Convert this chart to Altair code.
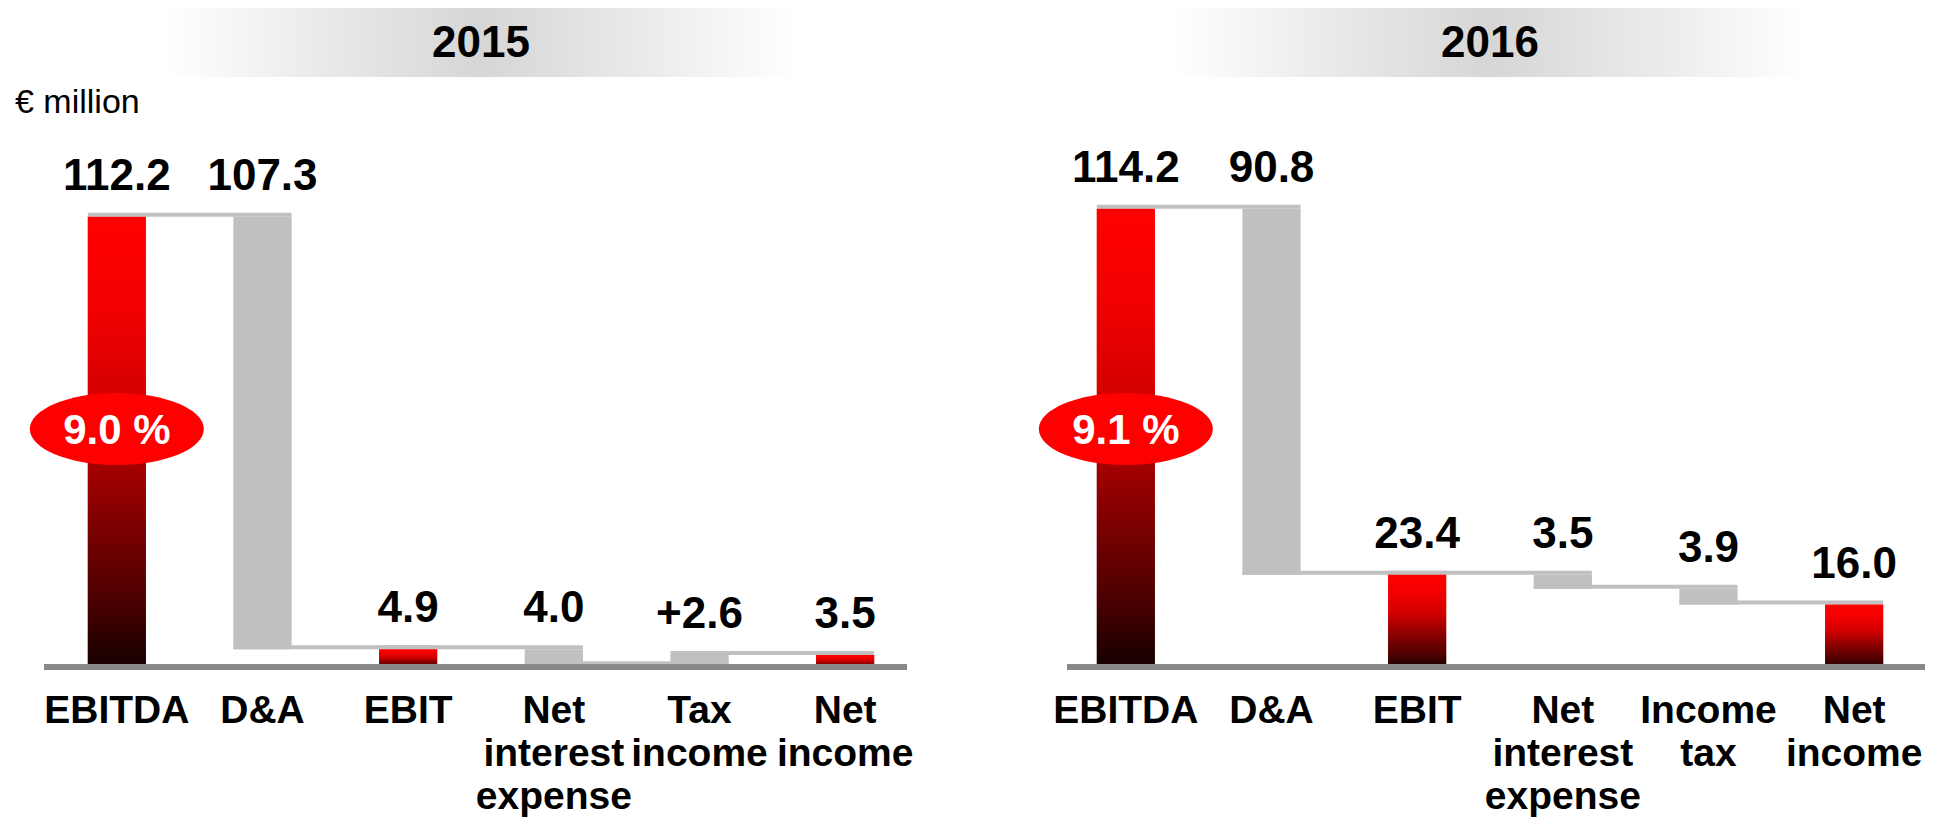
import altair as alt
import pandas as pd

# ---------------- data ----------------
years = ["2015", "2016"]
categories_2015 = ["EBITDA", "D&A", "EBIT", "Net interest expense", "Tax income", "Net income"]
values_2015 = [112.2, -107.3, 4.9, -4.0, 2.6, 3.5]
categories_2016 = ["EBITDA", "D&A", "EBIT", "Net interest expense", "Income tax", "Net income"]
values_2016 = [114.2, -90.8, 23.4, -3.5, -3.9, 16.0]
kinds = ["total", "delta", "total", "delta", "delta", "total"]
ebitda_margins = ["9.0 %", "9.1 %"]
unit_label = "€ million"

# ---------------- styles ----------------
FONT = "Liberation Sans"
GRAY = "#c0c0c0"
AXIS_GRAY = "#898989"
W, H = 874, 661
YMAX = 164

RED_GRADIENT = alt.Gradient(
    gradient="linear",
    stops=[
        alt.GradientStop(color="#ff0000", offset=0),
        alt.GradientStop(color="#f20000", offset=0.2),
        alt.GradientStop(color="#d40000", offset=0.4),
        alt.GradientStop(color="#9c0000", offset=0.58),
        alt.GradientStop(color="#480000", offset=0.86),
        alt.GradientStop(color="#140000", offset=1),
    ],
    x1=0, x2=0, y1=0, y2=1,
)
BAND_GRADIENT = alt.Gradient(
    gradient="linear",
    stops=[
        alt.GradientStop(color="#ffffff", offset=0),
        alt.GradientStop(color="#ececec", offset=0.22),
        alt.GradientStop(color="#d6d6d6", offset=0.5),
        alt.GradientStop(color="#ececec", offset=0.78),
        alt.GradientStop(color="#ffffff", offset=1),
    ],
    x1=0, x2=1, y1=0, y2=0,
)
# unit ellipse (rx=1, ry=0.414) drawn with cubic curves
k = 0.5523
r = 0.414
ELLIPSE = (
    f"M-1,0 C-1,{-r*k:.4f} {-k},{-r} 0,{-r} "
    f"C{k},{-r} 1,{-r*k:.4f} 1,0 "
    f"C1,{r*k:.4f} {k},{r} 0,{r} "
    f"C{-k},{r} -1,{r*k:.4f} -1,0 Z"
)


def waterfall(cats, vals):
    rows = []
    running = 0.0
    for c, v, kind in zip(cats, vals, kinds):
        if kind == "total":
            start, end = 0.0, v
            label = f"{v:.1f}"
        else:
            start, end = running, running + v
            label = f"+{v:.1f}" if v > 0 else f"{abs(v):.1f}"
        running = end
        rows.append(dict(cat=c, kind=kind, start=round(start, 2), end=round(end, 2),
                         top=round(max(start, end), 2), label=label))
    df = pd.DataFrame(rows)
    conn = pd.DataFrame({
        "src": cats[:-1],
        "dst": cats[1:],
        "level": [row["end"] for row in rows[:-1]],
    })
    return df, conn


def panel(year, cats, vals, margin, axis_x, with_unit):
    df, conn = waterfall(cats, vals)
    xs = alt.Scale(domain=cats, paddingInner=0.6, paddingOuter=0.3)
    ys = alt.Scale(domain=[0, YMAX], nice=False, zero=True)

    x_plain = alt.X("cat:N", scale=xs, axis=None)
    y_start = alt.Y("start:Q", scale=ys, axis=None)

    base = alt.Chart(df)
    one = pd.DataFrame({"head": [year], "margin": [margin]})

    band = alt.Chart(one).mark_rect(fill=BAND_GRADIENT).encode(
        x=alt.value(122), x2=alt.value(752), y=alt.value(0), y2=alt.value(69)
    )
    title = alt.Chart(one).mark_text(
        font=FONT, fontSize=44, fontWeight="bold", color="black",
        align="center", baseline="alphabetic",
    ).encode(x=alt.value(W / 2), y=alt.value(49), text="head:N")

    connectors = alt.Chart(conn).mark_rule(
        color=GRAY, strokeWidth=4, xOffset=-29, x2Offset=29, yOffset=-2
    ).encode(
        x=alt.X("src:N", scale=xs, axis=None),
        x2="dst:N",
        y=alt.Y("level:Q", scale=ys, axis=None),
    )

    bars_total = base.transform_filter("datum.kind == 'total'").mark_bar(
        fill=RED_GRADIENT, strokeWidth=0
    ).encode(x=x_plain, y=y_start, y2="end:Q")

    bars_delta = base.transform_filter("datum.kind == 'delta'").mark_bar(
        color=GRAY, strokeWidth=0
    ).encode(x=x_plain, y=y_start, y2="end:Q")

    baseline = alt.Chart(one).mark_rule(
        color=AXIS_GRAY, strokeWidth=6, yOffset=-2
    ).encode(x=alt.value(axis_x[0]), x2=alt.value(axis_x[1]),
             y=alt.YDatum(0, scale=ys, axis=None))

    labels = base.mark_text(
        font=FONT, fontSize=44, fontWeight="bold", color="black",
        align="center", baseline="alphabetic", dy=-27,
    ).encode(x=x_plain, y=alt.Y("top:Q", scale=ys, axis=None), text="label:N")

    cat_labels = base.mark_text(
        font=FONT, fontSize=39, fontWeight="bold", color="black",
        align="center", baseline="alphabetic", dy=54, lineBreak=" ", lineHeight=43,
    ).encode(x=x_plain, y=alt.value(H), text="cat:N")

    ellipse = alt.Chart(one).mark_point(
        shape=ELLIPSE, size=30276, filled=True, fill="#ff0000", opacity=1, strokeWidth=0
    ).encode(x=alt.XDatum("EBITDA", type="nominal", scale=xs, axis=None), y=alt.value(421))

    margin_text = alt.Chart(one).mark_text(
        font=FONT, fontSize=42, fontWeight="bold", color="white",
        align="center", baseline="alphabetic", dy=15,
    ).encode(x=alt.XDatum("EBITDA", type="nominal", scale=xs, axis=None),
             y=alt.value(421), text="margin:N")

    layers = [band, title, connectors, bars_total, bars_delta, baseline, labels,
              cat_labels, ellipse, margin_text]
    if with_unit:
        unit = alt.Chart(pd.DataFrame({"u": [unit_label]})).mark_text(
            font=FONT, fontSize=34, color="black",
            align="left", baseline="alphabetic",
        ).encode(x=alt.value(-29), y=alt.value(105), text="u:N")
        layers.append(unit)

    return alt.layer(*layers).properties(width=W, height=H)


p1 = panel(years[0], categories_2015, values_2015, ebitda_margins[0], (0, 863), True)
p2 = panel(years[1], categories_2016, values_2016, ebitda_margins[1], (14, 872), False)

chart = alt.hconcat(p1, p2, spacing=135, bounds="flush").properties(
    padding={"left": 7, "top": 0, "right": 0, "bottom": 0}
).configure(background="white").configure_view(stroke=None)

chart.save("out.html", embed_options={"renderer": "svg", "actions": False})
